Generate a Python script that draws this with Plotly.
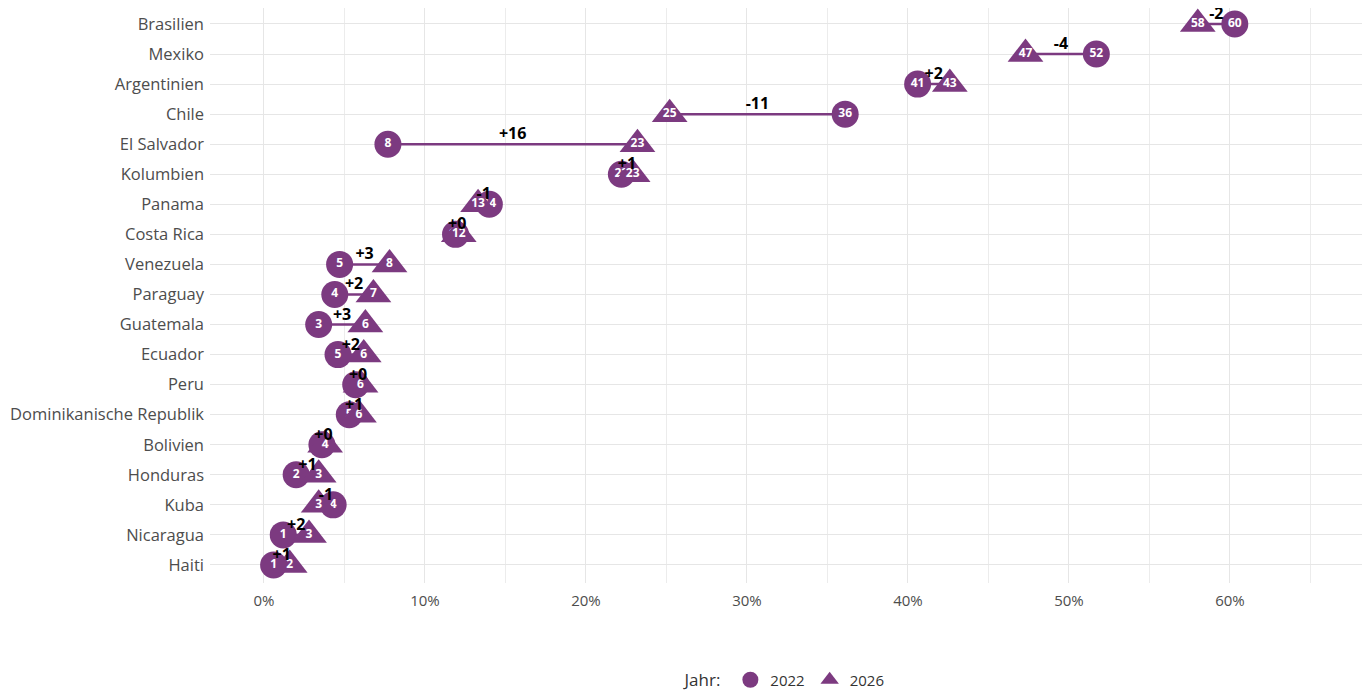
import plotly.graph_objects as go

countries = ["Brasilien", "Mexiko", "Argentinien", "Chile", "El Salvador", "Kolumbien",
             "Panama", "Costa Rica", "Venezuela", "Paraguay", "Guatemala", "Ecuador",
             "Peru", "Dominikanische Republik", "Bolivien", "Honduras", "Kuba",
             "Nicaragua", "Haiti"]
v2022 = [60.3, 51.7, 40.6, 36.1, 7.7, 22.2, 14.0, 11.9, 4.7, 4.4, 3.4, 4.6, 5.7, 5.3, 3.6, 2.0, 4.3, 1.2, 0.6]
v2026 = [58.0, 47.3, 42.6, 25.2, 23.2, 22.9, 13.3, 12.1, 7.8, 6.8, 6.3, 6.2, 6.0, 5.9, 3.8, 3.4, 3.4, 2.8, 1.6]
years = ["2022", "2026"]
x_ticks = [0, 10, 20, 30, 40, 50, 60]
x_ticklabels = ["0%", "10%", "20%", "30%", "40%", "50%", "60%"]

PURPLE = "#7C3A80"
FONT = "Open Sans"

ypos = list(range(len(countries)))

fig = go.Figure()

# connecting segments
seg_x, seg_y = [], []
for y, a, b in zip(ypos, v2022, v2026):
    seg_x += [a, b, None]
    seg_y += [y, y, None]
fig.add_trace(go.Scatter(x=seg_x, y=seg_y, mode="lines",
                         line=dict(color=PURPLE, width=2.5),
                         hoverinfo="skip", showlegend=False))

# 2022 circles
fig.add_trace(go.Scatter(x=v2022, y=ypos, mode="markers+text",
                         marker=dict(symbol="circle", size=27, color=PURPLE),
                         text=[f"{v:.0f}" for v in v2022],
                         textposition="middle center",
                         textfont=dict(color="white", size=12, family=FONT, weight="bold"),
                         showlegend=False, name="2022", cliponaxis=False))
# 2026 triangles
fig.add_trace(go.Scatter(x=v2026, y=ypos, mode="markers+text",
                         marker=dict(symbol="triangle-up", size=31, color=PURPLE),
                         text=[f"{v:.0f}" for v in v2026],
                         textposition="middle center",
                         textfont=dict(color="white", size=12, family=FONT, weight="bold"),
                         showlegend=False, name="2026", cliponaxis=False))

# difference labels
mid = [(a + b) / 2 for a, b in zip(v2022, v2026)]
dif = [f"{b - a:+.0f}" for a, b in zip(v2022, v2026)]
fig.add_trace(go.Scatter(x=mid, y=[y - 0.3 for y in ypos], mode="text", text=dif,
                         textposition="middle center",
                         textfont=dict(color="black", size=16, family=FONT, weight="bold"),
                         hoverinfo="skip", showlegend=False, cliponaxis=False))

# legend entries
fig.add_trace(go.Scatter(x=[None], y=[None], mode="markers", name=years[0],
                         marker=dict(symbol="circle", size=26, color=PURPLE)))
fig.add_trace(go.Scatter(x=[None], y=[None], mode="markers", name=years[1],
                         marker=dict(symbol="triangle-up", size=30, color=PURPLE)))

fig.update_layout(
    width=1370, height=695,
    margin=dict(l=202, r=16, t=0, b=120, autoexpand=False),
    plot_bgcolor="white", paper_bgcolor="white",
    font=dict(family=FONT, color="#4d4d4d", size=16),
    legend=dict(orientation="h", x=0.5, xanchor="center", xref="paper",
                y=1 - 672 / 695, yanchor="middle", yref="container",
                title=dict(text="Jahr:", font=dict(size=17, color="#333333")),
                font=dict(size=15, color="#333333"), itemsizing="trace"),
    showlegend=True,
)
fig.update_xaxes(range=[-3.35, 68.2], tickvals=x_ticks, ticktext=x_ticklabels,
                 showgrid=True, gridcolor="#e6e6e6", gridwidth=1, zeroline=False,
                 minor=dict(dtick=5, tick0=0, showgrid=True, gridcolor="#ececec", gridwidth=1),
                 tickfont=dict(size=15, color="#4d4d4d"), ticks="", showline=False,
                 ticklabelstandoff=7, automargin=False)
fig.update_yaxes(range=[len(countries) - 0.4, -0.532], tickvals=ypos, ticktext=countries,
                 showgrid=True, gridcolor="#e6e6e6", gridwidth=1, zeroline=False,
                 tickfont=dict(size=16.5, color="#4d4d4d"), ticks="", showline=False,
                 ticklabelstandoff=5, automargin=False)

fig.write_html("out.html")
